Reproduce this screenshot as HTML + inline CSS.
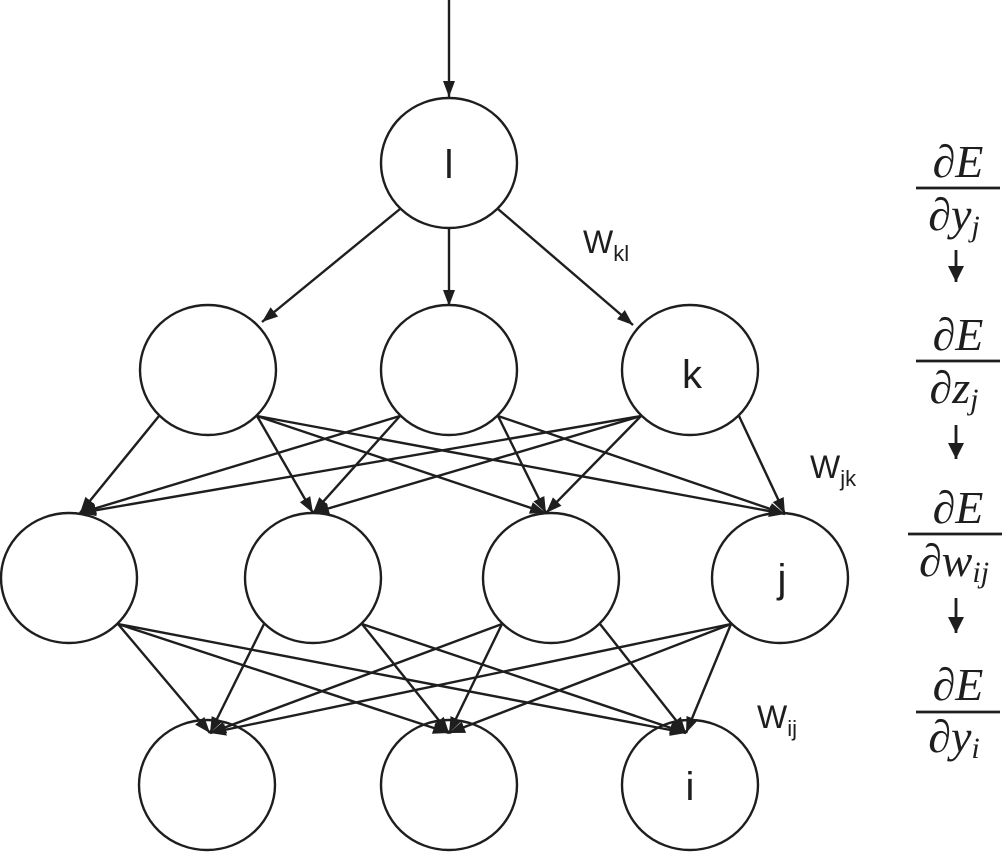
<!DOCTYPE html>
<html><head><meta charset="utf-8"><style>
html,body{margin:0;padding:0;background:#fff;}
svg{display:block;}
.t{font-family:"Liberation Sans",sans-serif;fill:#1e1e1e;}
.m{font-family:"Liberation Serif",serif;font-style:italic;fill:#1e1e1e;}
</style></head><body>
<svg id="s" width="1004" height="867" viewBox="0 0 1004 867" xmlns="http://www.w3.org/2000/svg">
<defs><marker id="a" markerWidth="16" markerHeight="16" refX="14" refY="7" orient="auto" markerUnits="userSpaceOnUse" viewBox="0 0 14 14"><path d="M0,0 L14,7 L0,14z" fill="#1e1e1e"/></marker>
<marker id="b" markerWidth="16" markerHeight="16" refX="16" refY="6" orient="auto" markerUnits="userSpaceOnUse" viewBox="0 0 16 12"><path d="M0,0 L16,6 L0,12z" fill="#1e1e1e"/></marker></defs>
<g id="g" stroke="#1e1e1e" stroke-width="2.4" fill="none"></g>
<text class="t" x="449" y="178" font-size="40" text-anchor="middle">l</text>
<text class="t" x="692" y="388" font-size="40" text-anchor="middle">k</text>
<text class="t" x="782" y="592" font-size="40" text-anchor="middle">j</text>
<text class="t" x="690" y="800" font-size="40" text-anchor="middle">i</text>
<text class="t" x="583" y="253" font-size="32">W<tspan font-size="22" dy="8">kl</tspan></text>
<text class="t" x="810" y="478" font-size="32">W<tspan font-size="22" dy="8">jk</tspan></text>
<text class="t" x="757" y="728" font-size="32">W<tspan font-size="22" dy="8">ij</tspan></text>
<g font-size="46" text-anchor="middle" class="m">
<text x="958" y="177">∂E</text><text x="954" y="230">∂y<tspan font-size="30" dy="6">j</tspan></text>
<text x="958" y="350">∂E</text><text x="954" y="403">∂z<tspan font-size="30" dy="6">j</tspan></text>
<text x="958" y="523">∂E</text><text x="954" y="576">∂w<tspan font-size="30" dy="6">ij</tspan></text>
<text x="958" y="700">∂E</text><text x="954" y="752">∂y<tspan font-size="30" dy="6">i</tspan></text>
</g>
<g stroke="#1e1e1e" stroke-width="2.8">
<line x1="916" y1="188" x2="1000" y2="188"/><line x1="916" y1="361" x2="1000" y2="361"/>
<line x1="908" y1="534" x2="1002" y2="534"/><line x1="916" y1="712" x2="1000" y2="712"/>
<line x1="956" y1="250" x2="956" y2="282" marker-end="url(#a)"/>
<line x1="956" y1="425" x2="956" y2="459" marker-end="url(#a)"/>
<line x1="956" y1="598" x2="956" y2="633" marker-end="url(#a)"/>
</g>
</svg>
<script>
var g=document.getElementById('g'),NS='http://www.w3.org/2000/svg';
function el(n,a){var e=document.createElementNS(NS,n);for(var k in a)e.setAttribute(k,a[k]);g.appendChild(e);return e;}
var L1=[[449,163]],L2=[[208,370],[449,370],[690,370]],L3=[[69,578],[313,578],[551,578],[780,578]],L4=[[207,785],[449,785],[690,785]];
var rx=68,ry=65;
[L1,L2,L3,L4].forEach(function(L){L.forEach(function(c){el('ellipse',{cx:c[0],cy:c[1],rx:rx,ry:ry});});});
function edge(c,t){var dx=t[0]-c[0];var sx,sy;
if(Math.abs(dx)<20){sx=c[0];sy=c[1]+ry;}else if(dx<0){sx=c[0]-49;sy=c[1]+46;}else{sx=c[0]+49;sy=c[1]+46;}
el('line',{x1:sx,y1:sy,x2:t[0],y2:t[1],'marker-end':'url(#b)'});}
el('line',{x1:449,y1:0,x2:449,y2:97,'marker-end':'url(#b)'});
var T2=[[262,322],[449,306],[633,325]],T3=[[80,513],[313,513],[546,513],[785,514]],T4=[[210,733],[449,733],[686,733]];
T2.forEach(function(t){edge(L1[0],t);});
L2.forEach(function(c){T3.forEach(function(t){edge(c,t);});});
L3.forEach(function(c){T4.forEach(function(t){edge(c,t);});});
</script>
</body></html>
